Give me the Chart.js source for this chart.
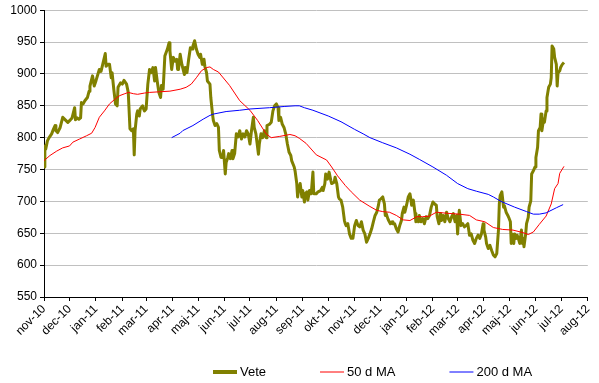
<!DOCTYPE html>
<html>
<head>
<meta charset="utf-8">
<script src="https://cdn.jsdelivr.net/npm/chart.js@4.4.0/dist/chart.umd.min.js"></script>
<style>
html,body{margin:0;padding:0;background:#ffffff;}
#wrap{width:599px;height:383px;position:relative;}
</style>
</head>
<body>
<div id="wrap"><canvas id="c" width="599" height="383"></canvas></div>
<script>
// ---- categories (month tick labels) ----
const monthLabels = ['nov-10','dec-10','jan-11','feb-11','mar-11','apr-11','maj-11','jun-11','jul-11','aug-11','sep-11','okt-11','nov-11','dec-11','jan-12','feb-12','mar-12','apr-12','maj-12','jun-12','jul-12','aug-12'];

// ---- y axis ----
const yMin = 550, yMax = 1000, yStep = 50;

// ---- series: days since 1 Nov 2010, values ----
const veteDays = [0,1,2,4,6,9,11,13,14,16,19,22,25,28,31,33,36,37,39,41,43,44,46,48,51,53,54,57,59,61,65,67,69,72,73,75,77,79,80,82,84,86,87,90,92,94,97,99,101,103,105,106,107,109,110,112,113,116,117,
118,120,122,124,126,128,130,131,133,135,137,138,140,142,145,147,148,150,152,154,156,157,158,160,162,165,166,168,170,172,174,175,177,179,181,183,184,186,188,189,191,192,195,196,198,199,201,203,205,206,208,210,211,213,214,216,217,219,221,222,224,226,228,230,232,234,236,238,240,242,
244,246,247,249,252,253,255,257,259,261,262,265,267,269,271,273,275,276,278,280,282,284,286,288,290,291,294,295,297,298,299,301,303,304,306,307,309,310,312,314,316,317,320,322,325,327,328,330,331,333,335,337,338,341,342,344,346,347,349,351,353,354,355,357,359,361,363,365,
367,369,371,373,375,377,379,381,383,385,387,389,391,393,394,396,398,400,401,402,404,405,407,409,410,412,414,416,418,420,421,423,424,426,428,430,431,432,434,436,437,438,440,441,443,445,447,449,451,453,455,457,459,461,462,464,466,467,469,471,473,475,477,479,481,483,485,486,487,488,
490,492,494,496,498,500,502,504,506,508,510,512,514,516,517,519,520,522,524,526,528,530,532,534,535,536,538,540,541,543,545,546,548,549,550,552,553,555,556,558,559,561,562,563,564,566,567,569,570,572,573,575,577,578,580,581,583,584,585,587,588,590,591,593,595,596,597,599,600,602,603,604,606,607,609,611];
const veteValues = [754,787,782,795,800,806,813,819,811,808,816,832,828,824,828,831,847,828,831,829,831,855,853,858,863,873,881,897,881,889,907,904,915,932,912,915,915,894,902,876,853,850,879,886,884,890,884,871,814,811,814,773,811,837,842,834,845,850,845,
842,845,884,907,902,910,889,910,889,871,863,882,876,928,939,949,936,907,926,920,923,907,907,931,915,899,910,902,923,941,939,944,952,939,931,926,931,915,923,912,902,889,884,863,837,827,819,822,816,780,769,769,780,743,761,769,775,767,780,767,775,806,801,811,798,806,801,811,806,790,
813,832,816,806,774,790,806,800,811,800,819,821,824,842,850,853,847,827,832,821,816,806,790,777,772,764,754,748,728,707,717,728,707,717,699,712,715,702,717,712,746,712,712,715,717,722,717,728,743,735,746,733,728,730,738,728,707,704,702,691,670,665,662,665,649,642,642,662,
670,662,660,668,655,649,636,642,649,657,668,678,683,694,702,704,707,696,678,681,673,670,665,668,665,665,657,652,662,670,681,691,683,694,707,712,704,694,702,681,668,673,668,678,668,673,665,676,673,678,691,699,696,694,676,665,681,670,678,668,683,673,668,676,681,668,678,649,670,686,
662,665,660,662,665,647,649,639,634,642,647,642,649,665,655,644,634,626,631,623,616,613,618,655,696,709,715,691,693,683,678,675,668,634,649,634,649,642,647,639,634,655,634,642,629,649,665,675,691,701,743,748,754,769,785,811,816,837,811,829,824,842,863,879,884,894,944,939,926,915,881,902,905,910,915,918];

const ma50Days = [0,7,15,22,30,34,42,50,56,60,65,71,77,83,89,95,99,105,110,118,124,136,148,160,167,173,179,185,191,195,199,205,218,230,242,251,261,267,277,289,295,300,308,320,332,338,345,354,361,371,383,391,398,406,414,422,430,438,445,453,461,469,477,488,500,508,518,528,539,551,563,569,575,582,590,596,600,604,606,611];
const ma50Values = [764,772,779,784,787,793,798,803,807,816,832,842,853,860,866,869,871,869,868,870,871,872,873,876,879,884,894,905,910,911,907,903,882,858,843,827,806,800,802,805,803,799,791,773,765,754,740,725,715,702,692,686,684,683,678,671,670,676,676,677,683,682,681,680,678,671,668,659,656,655,651,648,652,664,677,696,720,728,744,755];

const ma200Days = [150,160,163,175,187,195,199,214,230,242,265,283,295,300,306,316,334,349,365,375,383,398,414,430,441,457,473,486,498,508,522,528,537,553,567,575,582,590,602,610];
const ma200Values = [800,807,811,819,829,835,837,841,843,845,847,849,850,850,847,843,834,825,813,806,800,792,784,774,766,754,741,728,720,716,711,707,700,691,684,680,680,682,690,695];

const seriesNames = ['Vete','50 d MA','200 d MA'];
const seriesColors = ['#808000','#ff0000','#0000ff'];

// ---- derived ----
const baseUTC = Date.UTC(2010,10,1);
const monthOffsets = monthLabels.map((_, i) => (Date.UTC(2010, 10 + i, 1) - baseUTC) / 86400000);
const toPts = (d, v) => d.map((x, i) => ({x: x, y: v[i]}));

const FONT = "'Liberation Sans Narrow', 'Liberation Sans', Arial, sans-serif";

const legendPlugin = {
  id: 'customLegend',
  afterDraw(chart) {
    const ctx = chart.ctx;
    ctx.save();
    ctx.font = "13px 'Liberation Sans', Arial, sans-serif";
    ctx.textBaseline = 'middle';
    ctx.fillStyle = '#000';
    const y = 372;
    const lineW = 24, gapText = 3, gapItem = 54;
    let x = 213;
    chart.data.datasets.forEach((ds) => {
      ctx.strokeStyle = ds.borderColor;
      ctx.lineWidth = ds.legendLineWidth;
      ctx.beginPath();
      ctx.moveTo(x, y);
      ctx.lineTo(x + lineW, y);
      ctx.stroke();
      const tx = x + lineW + gapText;
      ctx.fillText(ds.label, tx, y);
      x = tx + ctx.measureText(ds.label).width + gapItem;
    });
    ctx.restore();
  }
};

new Chart(document.getElementById('c'), {
  type: 'line',
  data: {
    datasets: [
      {label: seriesNames[0], data: toPts(veteDays, veteValues), borderColor: seriesColors[0], backgroundColor: seriesColors[0], borderWidth: 3, legendLineWidth: 4, pointRadius: 0, tension: 0, order: 2, borderJoinStyle: 'round'},
      {label: seriesNames[1], data: toPts(ma50Days, ma50Values), borderColor: seriesColors[1], backgroundColor: seriesColors[1], borderWidth: 1, legendLineWidth: 1, pointRadius: 0, tension: 0, order: 1},
      {label: seriesNames[2], data: toPts(ma200Days, ma200Values), borderColor: seriesColors[2], backgroundColor: seriesColors[2], borderWidth: 1, legendLineWidth: 1, pointRadius: 0, tension: 0, order: 0}
    ]
  },
  options: {
    responsive: false,
    animation: false,
    devicePixelRatio: 1,
    layout: {padding: {top: 9, right: 11, left: 0, bottom: 0}},
    plugins: {legend: {display: false}, tooltip: {enabled: false}},
    scales: {
      x: {
        type: 'linear',
        min: monthOffsets[0],
        max: monthOffsets[monthOffsets.length - 1],
        afterBuildTicks: (s) => { s.ticks = monthOffsets.map(v => ({value: v})); },
        afterFit: (s) => { s.height = 86; },
        ticks: {
          autoSkip: false, maxRotation: 45, minRotation: 45, padding: 1,
          color: '#000', font: {family: FONT, size: 12},
          callback: (v, i) => monthLabels[i]
        },
        grid: {drawOnChartArea: false, drawTicks: true, tickLength: 4, tickColor: '#000'},
        border: {color: '#000', width: 1}
      },
      y: {
        min: yMin, max: yMax,
        afterFit: (s) => { s.width = 44; },
        ticks: {stepSize: yStep, padding: 3, color: '#000', font: {family: FONT, size: 12}, callback: (v) => String(v)},
        grid: {color: '#c0c0c0', lineWidth: 1, drawTicks: true, tickLength: 4, tickColor: '#000'},
        border: {color: '#000', width: 1}
      }
    }
  },
  plugins: [legendPlugin]
});
</script>
</body>
</html>
